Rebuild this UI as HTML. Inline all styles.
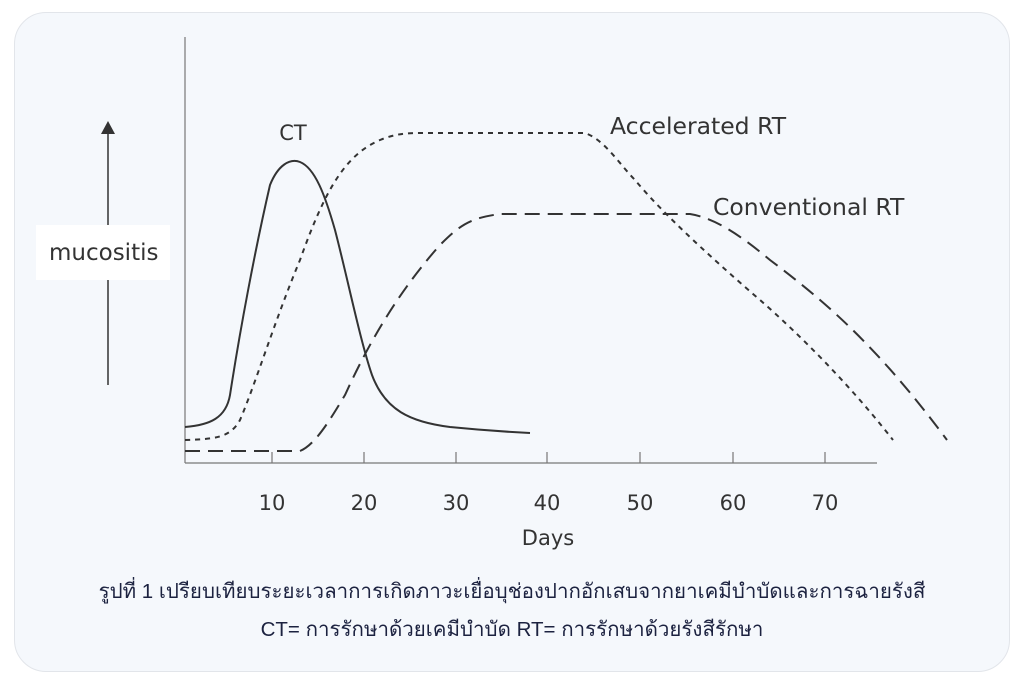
<!DOCTYPE html>
<html><head><meta charset="utf-8"><style>
html,body{margin:0;padding:0;background:#fff;width:1024px;height:685px;overflow:hidden}
.p{position:absolute;left:14px;top:12px;width:994px;height:658px;background:#f5f8fc;border:1px solid #e2e5ea;border-radius:32px}
svg{position:absolute;left:0;top:0}
.cap{position:absolute;left:0;width:1024px;text-align:center;font-family:"Liberation Sans","DejaVu Sans",sans-serif;font-size:20.5px;color:#1c2240;white-space:nowrap}
</style></head><body>
<div class="p"></div>
<svg width="1024" height="685" viewBox="0 0 1024 685" font-family="'DejaVu Sans','Liberation Sans',sans-serif" fill="none">
<line x1="185" y1="37" x2="185" y2="463" stroke="#777" stroke-width="1.2"/>
<line x1="185" y1="463" x2="877" y2="463" stroke="#777" stroke-width="1.2"/>
<g stroke="#777" stroke-width="1.2">
<line x1="272" y1="452" x2="272" y2="463"/><line x1="364" y1="452" x2="364" y2="463"/><line x1="456" y1="452" x2="456" y2="463"/><line x1="547" y1="452" x2="547" y2="463"/><line x1="640" y1="452" x2="640" y2="463"/><line x1="733" y1="452" x2="733" y2="463"/><line x1="825" y1="452" x2="825" y2="463"/>
</g>
<g fill="#333" font-size="21" text-anchor="middle">
<text x="272" y="510">10</text><text x="364" y="510">20</text><text x="456" y="510">30</text><text x="547" y="510">40</text><text x="640" y="510">50</text><text x="733" y="510">60</text><text x="825" y="510">70</text>
<text x="548" y="545">Days</text>
<text x="293" y="140">CT</text>
</g>
<g fill="#333" font-size="23.5">
<text x="610" y="134">Accelerated RT</text>
<text x="713" y="215">Conventional RT</text>
</g>
<line x1="108" y1="385" x2="108" y2="132" stroke="#333" stroke-width="1.5"/>
<polygon points="101,134 115,134 108,121" fill="#333"/>
<rect x="36" y="225" width="134" height="55" fill="#fff"/>
<text x="49" y="260" fill="#333" font-size="23">mucositis</text>
<path d="M185,427 C210,425 226,418 230,395 C240,330 255,250 270,185 C278,165 290,158 300,162 C315,168 325,195 335,230 C348,280 360,340 372,375 C385,410 410,422 450,427 C490,431 510,432 530,433" stroke="#333" stroke-width="2"/>
<path d="M185,440 C215,439 230,438 240,420 C255,385 275,320 300,260 C325,190 345,155 380,140 C395,134 405,133 420,133 L585,133 C605,140 620,165 635,180 C660,210 700,248 760,300 C800,335 850,385 893,440" stroke="#333" stroke-width="2" stroke-dasharray="5,5"/>
<path d="M185,451 L300,451 C315,445 330,420 345,395 C370,340 400,290 440,245 C460,225 470,218 500,214 L690,214 C715,218 740,235 770,260 C830,305 880,350 947,440" stroke="#333" stroke-width="2" stroke-dasharray="15,8"/>
</svg>
<div class="cap" style="top:575px">รูปที่ 1 เปรียบเทียบระยะเวลาการเกิดภาวะเยื่อบุช่องปากอักเสบจากยาเคมีบำบัดและการฉายรังสี</div>
<div class="cap" style="top:613px">CT= การรักษาด้วยเคมีบำบัด RT= การรักษาด้วยรังสีรักษา</div>
</body></html>
